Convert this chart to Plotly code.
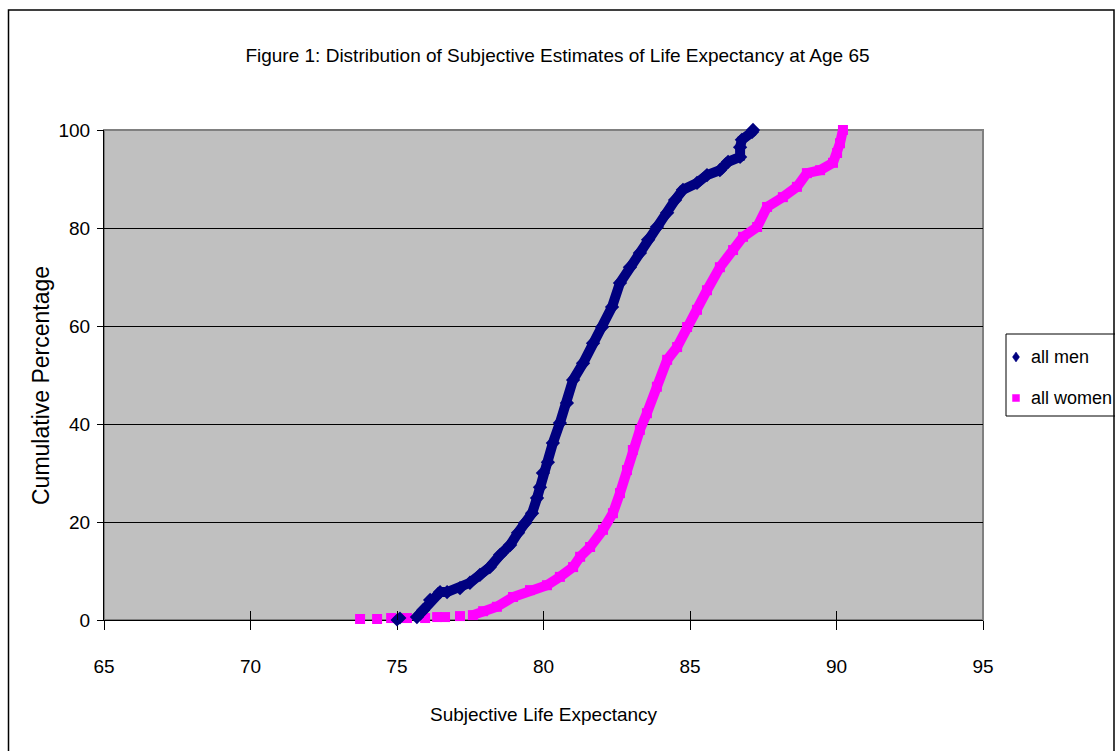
import plotly.graph_objects as go

# Data (x = subjective life expectancy, y = cumulative %)
men_sparse_x = [75.0, 75.1]
men_sparse_y = [0.0, 0.4]
men_x = [75.68, 75.89, 76.13, 76.47, 76.71, 77.15, 77.49, 77.83, 78.17, 78.52,
         78.86, 79.13, 79.37, 79.61, 79.78, 79.88, 79.98, 80.15, 80.32, 80.56,
         80.80, 81.01, 81.35, 81.69, 82.0, 82.34, 82.61, 82.95, 83.29, 83.57,
         83.87, 84.22, 84.49, 84.76, 85.24, 85.58, 86.02, 86.30, 86.71, 86.71,
         86.77, 87.12, 87.15]
men_y = [0.6, 2.0, 4.1, 5.7, 5.7, 6.5, 7.6, 9.2, 10.8, 13.3,
         15.3, 17.8, 19.8, 21.8, 24.9, 27.1, 30.0, 32.2, 36.1, 40.2,
         44.3, 49.0, 52.4, 56.5, 59.8, 63.9, 68.8, 72.0, 74.9, 77.6,
         80.2, 83.1, 85.7, 87.8, 89.2, 90.8, 91.8, 93.5, 94.5, 96.5,
         98.0, 99.6, 100.0]

women_sparse_x = [73.74, 74.32, 74.80, 75.34, 75.96, 76.37, 76.64, 77.15]
women_sparse_y = [0.2, 0.2, 0.4, 0.4, 0.4, 0.6, 0.6, 0.8]
women_x = [77.59, 77.94, 78.41, 78.96, 79.54, 80.12, 80.56, 81.01, 81.25, 81.59,
           82.03, 82.37, 82.61, 82.85, 83.05, 83.29, 83.53, 83.87, 84.22, 84.56,
           84.90, 85.24, 85.58, 86.02, 86.47, 86.81, 87.29, 87.63, 88.17, 88.65,
           88.99, 89.44, 89.88, 90.02, 90.12, 90.22]
women_y = [1.0, 1.8, 2.7, 4.7, 6.1, 7.1, 8.8, 10.8, 12.9, 14.9,
           18.4, 21.8, 25.9, 30.6, 34.7, 38.8, 42.2, 47.6, 53.1, 55.7,
           59.8, 63.3, 67.3, 72.0, 75.5, 78.2, 80.2, 84.3, 86.3, 88.4,
           91.2, 91.8, 93.3, 95.3, 97.3, 100.0]

x_ticks = [65, 70, 75, 80, 85, 90, 95]
y_ticks = [0, 20, 40, 60, 80, 100]
X_RANGE = [65, 95]
Y_RANGE = [0, 100]

TITLE = "Figure 1: Distribution of Subjective Estimates of Life Expectancy at Age 65"
XLABEL = "Subjective Life Expectancy"
YLABEL = "Cumulative Percentage"
LEGEND_NAMES = ["all men", "all women"]

FONT = "Liberation Sans, Arial, sans-serif"
MEN_C = "#000080"
WOMEN_C = "#FF00FF"

fig = go.Figure()
fig.add_trace(go.Scatter(x=women_sparse_x, y=women_sparse_y, mode="markers",
                         marker=dict(symbol="square", size=10, color=WOMEN_C),
                         cliponaxis=False, showlegend=False, hoverinfo="skip"))
fig.add_trace(go.Scatter(x=men_sparse_x, y=men_sparse_y, mode="markers",
                         marker=dict(symbol="diamond", size=10, color=MEN_C),
                         cliponaxis=False, showlegend=False, hoverinfo="skip"))
fig.add_trace(go.Scatter(x=men_x, y=men_y, mode="lines+markers", name=LEGEND_NAMES[0],
                         line=dict(color=MEN_C, width=10),
                         marker=dict(symbol="diamond", size=11, color=MEN_C),
                         cliponaxis=False, showlegend=False))
fig.add_trace(go.Scatter(x=women_x, y=women_y, mode="lines+markers", name=LEGEND_NAMES[1],
                         line=dict(color=WOMEN_C, width=10),
                         marker=dict(symbol="square", size=10, color=WOMEN_C),
                         cliponaxis=False, showlegend=False))
# empty trace that only carries the overlay axes (inner half of the crossing ticks)
fig.add_trace(go.Scatter(x=[], y=[], xaxis="x2", yaxis="y2", showlegend=False,
                         hoverinfo="skip"))

L, R, T, B = 104, 132, 130, 131
W, H = 1115, 751
pw, ph = W - L - R, H - T - B

def px2paper_x(px):
    return (px - L) / pw

def px2paper_y(py):
    return (H - B - py) / ph

def path_px(points):
    return "M " + " L ".join(f"{px2paper_x(a):.5f},{px2paper_y(b):.5f}" for a, b in points) + " Z"

# manual legend (box, symbols, labels), placed like the reference
lx0, ly0, ly1 = 1006, 334, 416
row_y = [357, 398]
sym_x = 1016
diamond = path_px([(sym_x, row_y[0] - 5), (sym_x + 3.5, row_y[0]), (sym_x, row_y[0] + 5), (sym_x - 3.5, row_y[0])])
square = path_px([(sym_x - 3.5, row_y[1] - 3.5), (sym_x + 3.5, row_y[1] - 3.5),
                  (sym_x + 3.5, row_y[1] + 3.5), (sym_x - 3.5, row_y[1] + 3.5)])

fig.update_layout(
    width=W, height=H,
    margin=dict(l=L, r=R, t=T, b=B, pad=0, autoexpand=False),
    paper_bgcolor="white",
    plot_bgcolor="#C0C0C0",
    font=dict(family=FONT, size=19, color="black"),
    title=dict(text=TITLE, x=0.5, xanchor="center", y=1 - 55 / H, yanchor="middle",
               font=dict(family=FONT, size=19, color="black")),
    showlegend=False,
    xaxis=dict(range=X_RANGE, tickvals=x_ticks, ticktext=[str(v) for v in x_ticks],
               showgrid=False, zeroline=False, showline=True, linecolor="black", linewidth=1,
               ticks="outside", ticklen=9, tickcolor="black", ticklabelstandoff=20,
               tickfont=dict(family=FONT, size=19), layer="below traces"),
    yaxis=dict(range=Y_RANGE, tickvals=y_ticks, ticktext=[str(v) for v in y_ticks],
               showgrid=True, gridcolor="black", gridwidth=1, zeroline=False,
               showline=True, linecolor="black", linewidth=1,
               ticks="outside", ticklen=6, tickcolor="black", ticklabelstandoff=3,
               tickfont=dict(family=FONT, size=19), layer="below traces"),
    xaxis2=dict(overlaying="x", range=X_RANGE, anchor="y2", side="bottom",
                tickvals=x_ticks, ticktext=["" for v in x_ticks], showgrid=False,
                zeroline=False, showline=False, ticks="inside", ticklen=9,
                tickcolor="black", tickwidth=1),
    yaxis2=dict(overlaying="y", range=Y_RANGE, anchor="x2", side="left",
                tickvals=y_ticks, ticktext=["" for v in y_ticks], showgrid=False,
                zeroline=False, showline=False, ticks="inside", ticklen=6,
                tickcolor="black", tickwidth=1),
    annotations=[
        dict(text=XLABEL, x=0.5, y=px2paper_y(715), xref="paper", yref="paper",
             xanchor="center", yanchor="middle", showarrow=False,
             font=dict(family=FONT, size=19)),
        dict(text=YLABEL, x=px2paper_x(41), y=px2paper_y(386), xref="paper", yref="paper",
             xanchor="center", yanchor="middle", showarrow=False, textangle=-90,
             font=dict(family=FONT, size=23)),
        dict(text=LEGEND_NAMES[0], x=px2paper_x(1029), y=px2paper_y(row_y[0]),
             xref="paper", yref="paper", xanchor="left", yanchor="middle",
             showarrow=False, font=dict(family=FONT, size=18)),
        dict(text=LEGEND_NAMES[1], x=px2paper_x(1029), y=px2paper_y(row_y[1]),
             xref="paper", yref="paper", xanchor="left", yanchor="middle",
             showarrow=False, font=dict(family=FONT, size=18)),
    ],
    shapes=[
        dict(type="rect", xref="paper", yref="paper", x0=0, x1=1, y0=0, y1=1,
             line=dict(color="#808080", width=2), layer="below"),
        dict(type="rect", xref="paper", yref="paper",
             x0=px2paper_x(8.5), x1=px2paper_x(1114), y0=px2paper_y(770), y1=px2paper_y(10),
             line=dict(color="black", width=1.5), layer="above"),
        dict(type="rect", xref="paper", yref="paper",
             x0=px2paper_x(lx0), x1=px2paper_x(1130), y0=px2paper_y(ly1), y1=px2paper_y(ly0),
             line=dict(color="black", width=1), fillcolor="white", layer="below"),
        dict(type="path", xref="paper", yref="paper", path=diamond,
             line=dict(color=MEN_C, width=0.5), fillcolor=MEN_C),
        dict(type="path", xref="paper", yref="paper", path=square,
             line=dict(color=WOMEN_C, width=0.5), fillcolor=WOMEN_C),
    ],
)

fig.write_html("out.html", config={"displayModeBar": False},
               post_script="document.body.style.margin='0px';")
